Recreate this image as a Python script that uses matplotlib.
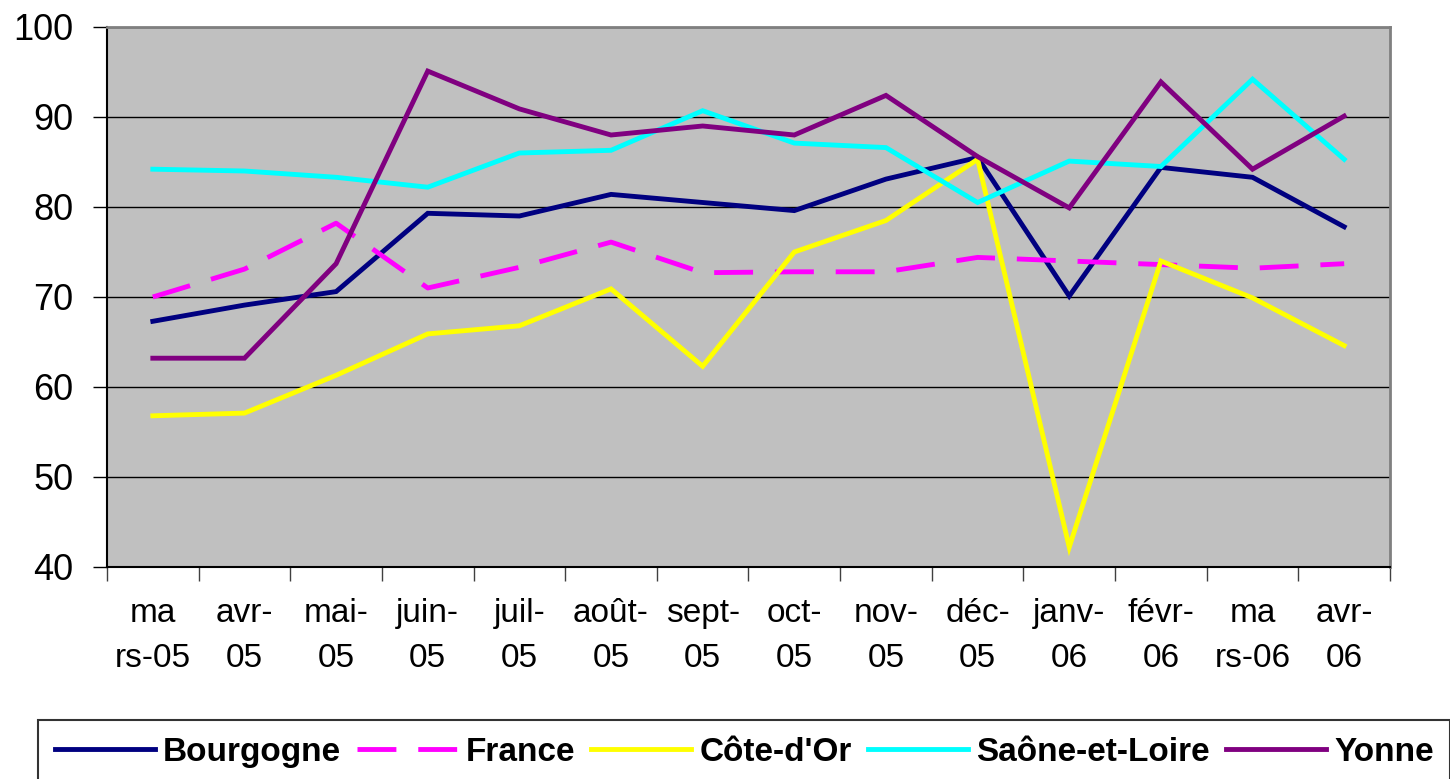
import matplotlib
matplotlib.use("Agg")
import matplotlib.pyplot as plt

plt.rcParams['font.family'] = ['Liberation Sans', 'DejaVu Sans']

months = ["ma\nrs-05", "avr-\n05", "mai-\n05", "juin-\n05", "juil-\n05", "août-\n05",
          "sept-\n05", "oct-\n05", "nov-\n05", "déc-\n05", "janv-\n06", "févr-\n06",
          "ma\nrs-06", "avr-\n06"]

bourgogne = [67.3, 69.1, 70.6, 79.3, 79.0, 81.4, 80.5, 79.6, 83.1, 85.5, 70.1, 84.4, 83.3, 77.8]
france = [70.0, 73.1, 78.2, 71.0, 73.3, 76.1, 72.7, 72.8, 72.8, 74.4, 74.0, 73.6, 73.2, 73.7]
cote_dor = [56.8, 57.1, 61.3, 65.9, 66.8, 70.9, 62.3, 75.0, 78.5, 85.3, 42.2, 74.0, 69.9, 64.6]
saone = [84.2, 84.0, 83.3, 82.2, 86.0, 86.3, 90.7, 87.1, 86.6, 80.5, 85.1, 84.5, 94.2, 85.3]
yonne = [63.2, 63.2, 73.7, 95.1, 90.9, 88.0, 89.0, 88.0, 92.4, 85.6, 79.9, 93.9, 84.2, 90.1]

series = [
    ("Bourgogne", bourgogne, "#000080", "-"),
    ("France", france, "#FF00FF", (0, (8, 4.5))),
    ("Côte-d'Or", cote_dor, "#FFFF00", "-"),
    ("Saône-et-Loire", saone, "#00FFFF", "-"),
    ("Yonne", yonne, "#800080", "-"),
]

fig = plt.figure(figsize=(14.5, 7.79), dpi=100)
ax = fig.add_axes([107 / 1450, 1 - 567 / 779, (1390 - 107) / 1450, (567 - 27) / 779])
ax.set_facecolor("#C0C0C0")

x = list(range(len(months)))
for name, vals, color, ls in series:
    ax.plot(x, vals, color=color, linestyle=ls, linewidth=3.5, label=name,
            solid_joinstyle="miter")

ax.set_ylim(40, 100)
ax.set_xlim(-0.5, len(months) - 0.5)

# gridlines and y ticks
ax.set_yticks(range(40, 101, 10))
ax.yaxis.grid(True, color="black", linewidth=1)
ax.set_axisbelow(True)
ax.tick_params(axis="y", direction="out", length=10, width=1, pad=14, labelsize=26)

# x ticks between categories, labels centred on categories
ax.set_xticks([i - 0.5 for i in range(len(months) + 1)])
ax.set_xticklabels([])
ax.tick_params(axis="x", which="major", direction="out", length=10, width=1, color="#404040")
ax.set_xticks(x, minor=True)
ax.set_xticklabels(months, minor=True, fontsize=24, linespacing=1.6)
ax.tick_params(axis="x", which="minor", length=0, pad=22)

for side in ["left", "bottom"]:
    ax.spines[side].set_color("black")
    ax.spines[side].set_linewidth(1.5)
for side in ["top", "right"]:
    ax.spines[side].set_color("#808080")
    ax.spines[side].set_linewidth(2)

leg = fig.legend(loc="upper left", bbox_to_anchor=(38 / 1450, 1 - 720 / 779), ncol=5,
                 prop={"weight": "bold", "size": 24}, handlelength=3.0, handletextpad=0.25,
                 columnspacing=0.48, borderpad=0.5, frameon=True, fancybox=False,
                 borderaxespad=0)
leg.get_frame().set_edgecolor("black")
leg.get_frame().set_linewidth(1.5)

plt.savefig("out.png", dpi=100)
